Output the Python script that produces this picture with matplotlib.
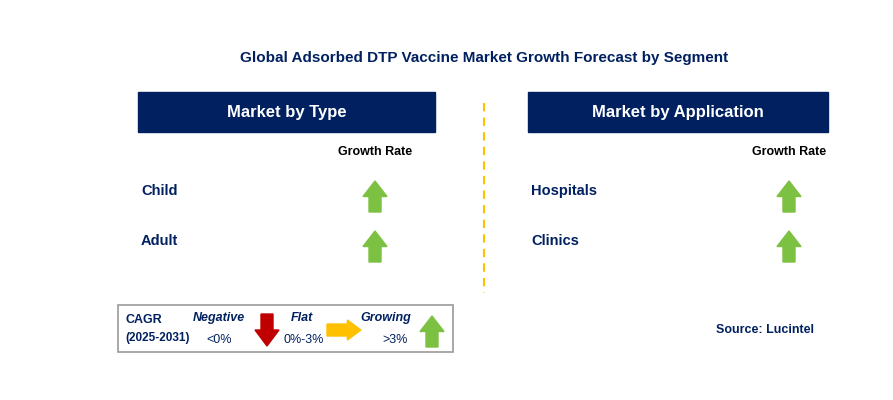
import matplotlib
matplotlib.use("Agg")
import matplotlib.pyplot as plt
from matplotlib.patches import Rectangle, Polygon

plt.rcParams["font.family"] = "Liberation Sans"

title = "Global Adsorbed DTP Vaccine Market Growth Forecast by Segment"
type_header = "Market by Type"
app_header = "Market by Application"
type_categories = ["Child", "Adult"]
type_growth = ["Growing", "Growing"]
app_categories = ["Hospitals", "Clinics"]
app_growth = ["Growing", "Growing"]
legend_labels = ["Negative", "Flat", "Growing"]
legend_ranges = ["<0%", "0%-3%", ">3%"]

NAVY = "#002060"
GREEN = "#7dc142"
RED = "#c00000"
ORANGE = "#ffc000"

fig = plt.figure(figsize=(8.93, 4.0), dpi=100)
ax = fig.add_axes([0, 0, 1, 1])
ax.set_xlim(0, 893)
ax.set_ylim(400, 0)
ax.axis("off")

def up_arrow(x, y0, y1, color, hw=12, sw=6):
    h = (y1 - y0) * 0.5
    pts = [(x, y0), (x + hw, y0 + h), (x + sw, y0 + h), (x + sw, y1),
           (x - sw, y1), (x - sw, y0 + h), (x - hw, y0 + h)]
    ax.add_patch(Polygon(pts, closed=True, color=color))

def down_arrow(x, y0, y1, color, hw=12, sw=6):
    h = (y1 - y0) * 0.5
    pts = [(x, y1), (x + hw, y1 - h), (x + sw, y1 - h), (x + sw, y0),
           (x - sw, y0), (x - sw, y1 - h), (x - hw, y1 - h)]
    ax.add_patch(Polygon(pts, closed=True, color=color))

def right_arrow(x0, x1, y, color, hw=10, sw=6):
    h = (x1 - x0) * 0.4
    pts = [(x1, y), (x1 - h, y - hw), (x1 - h, y - sw), (x0, y - sw),
           (x0, y + sw), (x1 - h, y + sw), (x1 - h, y + hw)]
    ax.add_patch(Polygon(pts, closed=True, color=color))

ax.text(484, 58, title, ha="center", va="center", fontsize=11, fontweight="bold", color=NAVY)

for (x0, x1), header, cats, growth, ax_x in [((138, 435), type_header, type_categories, type_growth, 375),
                                             ((528, 828), app_header, app_categories, app_growth, 789)]:
    ax.add_patch(Rectangle((x0, 92), x1 - x0, 40, color=NAVY))
    ax.text((x0 + x1) / 2, 112, header, ha="center", va="center", fontsize=12, fontweight="bold", color="white")
    ax.text(ax_x, 152, "Growth Rate", ha="center", va="center", fontsize=9, fontweight="bold", color="black")
    for i, (c, g) in enumerate(zip(cats, growth)):
        y = 191 + 50 * i
        ax.text(x0 + 3, y, c, ha="left", va="center", fontsize=10.5, fontweight="bold", color=NAVY)
        if g == "Growing":
            up_arrow(ax_x, y - 10, y + 21, GREEN)
        elif g == "Negative":
            down_arrow(ax_x, y - 10, y + 21, RED)
        else:
            right_arrow(ax_x - 16, ax_x + 16, y + 5, ORANGE)

ax.plot([484, 484], [103, 293], ls=(0, (4, 3)), color=ORANGE, lw=1.5)

# legend box
ax.add_patch(Rectangle((118, 305), 335, 47, fill=False, edgecolor="#999999", lw=1.2))
ax.text(125, 320, "CAGR", fontsize=9, fontweight="bold", color=NAVY, va="center")
ax.text(125, 338, "(2025-2031)", fontsize=8.5, fontweight="bold", color=NAVY, va="center")
lx = [219, 302, 386]
rx = [219, 304, 395]
for x, lab, r in zip(lx, legend_labels, legend_ranges):
    ax.text(x, 318, lab, ha="center", va="center", fontsize=9, fontweight="bold", style="italic", color=NAVY)
for x, r in zip(rx, legend_ranges):
    ax.text(x, 340, r, ha="center", va="center", fontsize=9, color=NAVY)
down_arrow(267, 314, 346, RED)
right_arrow(327, 361, 330, ORANGE)
up_arrow(432, 316, 347, GREEN)

ax.text(765, 330, "Source: Lucintel", ha="center", va="center", fontsize=9, fontweight="bold", color=NAVY)

fig.savefig("out.png", dpi=100)
